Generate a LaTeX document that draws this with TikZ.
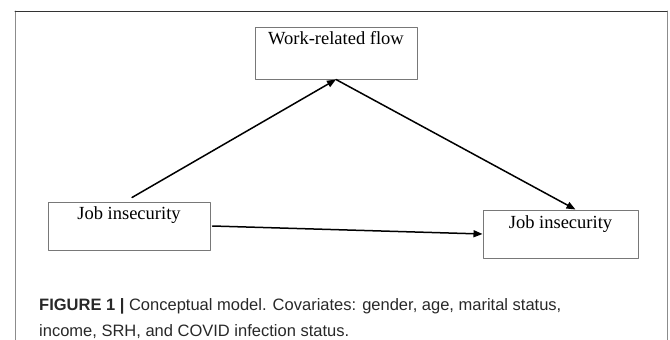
\documentclass[tikz,border=0pt]{standalone}
\usepackage{fontspec}
\setmainfont{Liberation Serif}
\newfontfamily\capfont{Liberation Sans}
\usetikzlibrary{arrows.meta}
\definecolor{boxgray}{RGB}{120,120,120}
\definecolor{framegray}{RGB}{140,140,140}
\definecolor{captext}{RGB}{40,40,40}
\tikzset{
  varbox/.style={draw=boxgray,line width=1pt,inner sep=0pt,
    font=\fontsize{18.5}{20}\selectfont,anchor=base},
  path/.style={line width=1.5pt,-{Triangle[length=9pt,width=7pt]}},
  captxt/.style={anchor=base west,inner sep=0pt,text=captext,
    font=\capfont\fontsize{16.5}{20}\selectfont}
}
\begin{document}
\begin{tikzpicture}[x=1pt,y=-1pt,line cap=round,line join=round]
        \useasboundingbox (0,0) rectangle (670,340);
        \draw[framegray,line width=1pt] (15,340)--(15,11);
        \draw[framegray,line width=1pt] (667,11)--(667,340);
        \draw[black!80,line width=1pt] (15,11)--(667,11);
        \node[varbox,minimum width=162pt,text height=18pt,text depth=34pt]
          (flow) at (336,45) {Work-related flow};
        \node[varbox,minimum width=162pt,text height=17pt,text depth=31pt]
          (jobA) at (129,219) {Job insecurity};
        \node[varbox,minimum width=155pt,text height=18pt,text depth=30pt]
          (jobB) at (560.5,228) {Job insecurity};
        \draw[path] ([xshift=3pt,yshift=4pt]jobA.north)--(flow.south);
        \draw[path] (flow.south)--([xshift=15pt]jobB.north);
        \draw[path] ([xshift=2pt]jobA.east)--(jobB.west);
        \node[captxt] (cap1) at (39,310)
          {\textbf{FIGURE 1 |} Conceptual model. Covariates: gender, age, marital status,};
        \node[captxt] (cap2) at (39,336)
          {income, SRH, and COVID infection status.};
      \end{tikzpicture}
\end{document}
